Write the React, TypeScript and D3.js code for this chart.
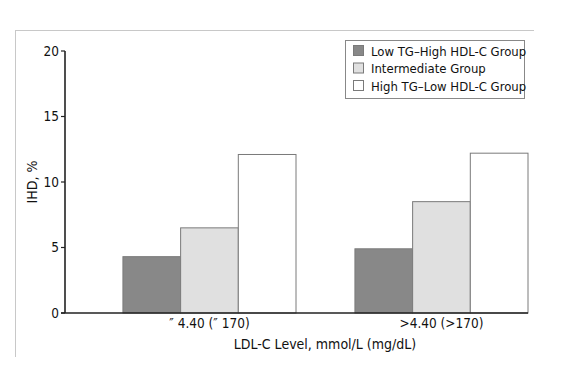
import React from "react";
import * as d3 from "d3";

const groups = ["\u2033 4.40 (\u2033 170)", ">4.40 (>170)"];
const series = ["Low TG\u2013High HDL-C Group", "Intermediate Group", "High TG\u2013Low HDL-C Group"];
const lowTgHighHdl = [4.3, 4.9];
const intermediate = [6.5, 8.5];
const highTgLowHdl = [12.1, 12.2];
const yTicks = [0, 5, 10, 15, 20];
const colors = ["#888888", "#e0e0e0", "#ffffff"];

const values = [lowTgHighHdl, intermediate, highTgLowHdl];
const FONT = "'Liberation Sans Narrow', 'DejaVu Sans Condensed', 'Arial Narrow', sans-serif";

export default function App() {
  const W = 564, H = 375;
  const axisX = 65;
  const x = d3.scaleBand<string>().domain(groups).range([64, 528]).paddingInner(0.254).paddingOuter(0.127).align(1);
  const xs = d3.scaleBand<string>().domain(series).range([0, x.bandwidth()]);
  const y = d3.scaleLinear().domain([0, 20]).range([313, 51]);
  const ink = "#111";

  return (
    <svg width={W} height={H} style={{ position: "absolute", left: 0, top: 0, background: "#fff" }} fontFamily={FONT}>
      <rect x={0} y={0} width={W} height={H} fill="#fff" />
      {/* frame */}
      <line x1={15} y1={30.5} x2={534} y2={30.5} stroke="#c8c8c8" strokeWidth={1} />
      <line x1={15.5} y1={30} x2={15.5} y2={357} stroke="#c8c8c8" strokeWidth={1} />

      {/* bars */}
      {groups.map((g, gi) =>
        series.map((s, si) => {
          const v = values[si][gi];
          return (
            <rect
              key={g + s}
              x={(x(g) as number) + (xs(s) as number)}
              y={y(v)}
              width={xs.bandwidth()}
              height={y(0) - y(v)}
              fill={colors[si]}
              stroke="#7a7a7a"
              strokeWidth={1}
            />
          );
        })
      )}

      {/* y axis */}
      <line x1={axisX} y1={y(20)} x2={axisX} y2={y(0)} stroke="#222" strokeWidth={1.6} />
      {yTicks.map((t) => (
        <g key={t}>
          <line x1={axisX - 4} y1={y(t)} x2={axisX} y2={y(t)} stroke="#222" strokeWidth={1.2} />
          <text x={axisX - 6} y={y(t)} dy="0.35em" textAnchor="end" fontSize={13.5} fill={ink}>
            {t}
          </text>
        </g>
      ))}
      {/* x axis */}
      <line x1={axisX - 4} y1={y(0)} x2={528} y2={y(0)} stroke="#222" strokeWidth={1.6} />
      {groups.map((g) => (
        <text key={g} x={(x(g) as number) + x.bandwidth() / 2} y={328} textAnchor="middle" fontSize={13.5} fill={ink}>
          {g}
        </text>
      ))}
      <text x={325} y={349} textAnchor="middle" fontSize={14} fill={ink}>
        LDL-C Level, mmol/L (mg/dL)
      </text>
      <text transform={`translate(37,182) rotate(-90)`} textAnchor="middle" fontSize={14} fill={ink}>
        IHD, %
      </text>

      {/* legend */}
      <rect x={345.5} y={40.5} width={179} height={58} fill="#fff" stroke="#888" strokeWidth={1} />
      {series.map((s, i) => (
        <g key={s} transform={`translate(353, ${51 + i * 17.5})`}>
          <rect x={0.5} y={-5.5} width={10} height={10} fill={colors[i]} stroke="#7a7a7a" strokeWidth={1} />
          <text x={18} y={0} dy="0.35em" fontSize={13} fill={ink}>
            {s}
          </text>
        </g>
      ))}
    </svg>
  );
}
